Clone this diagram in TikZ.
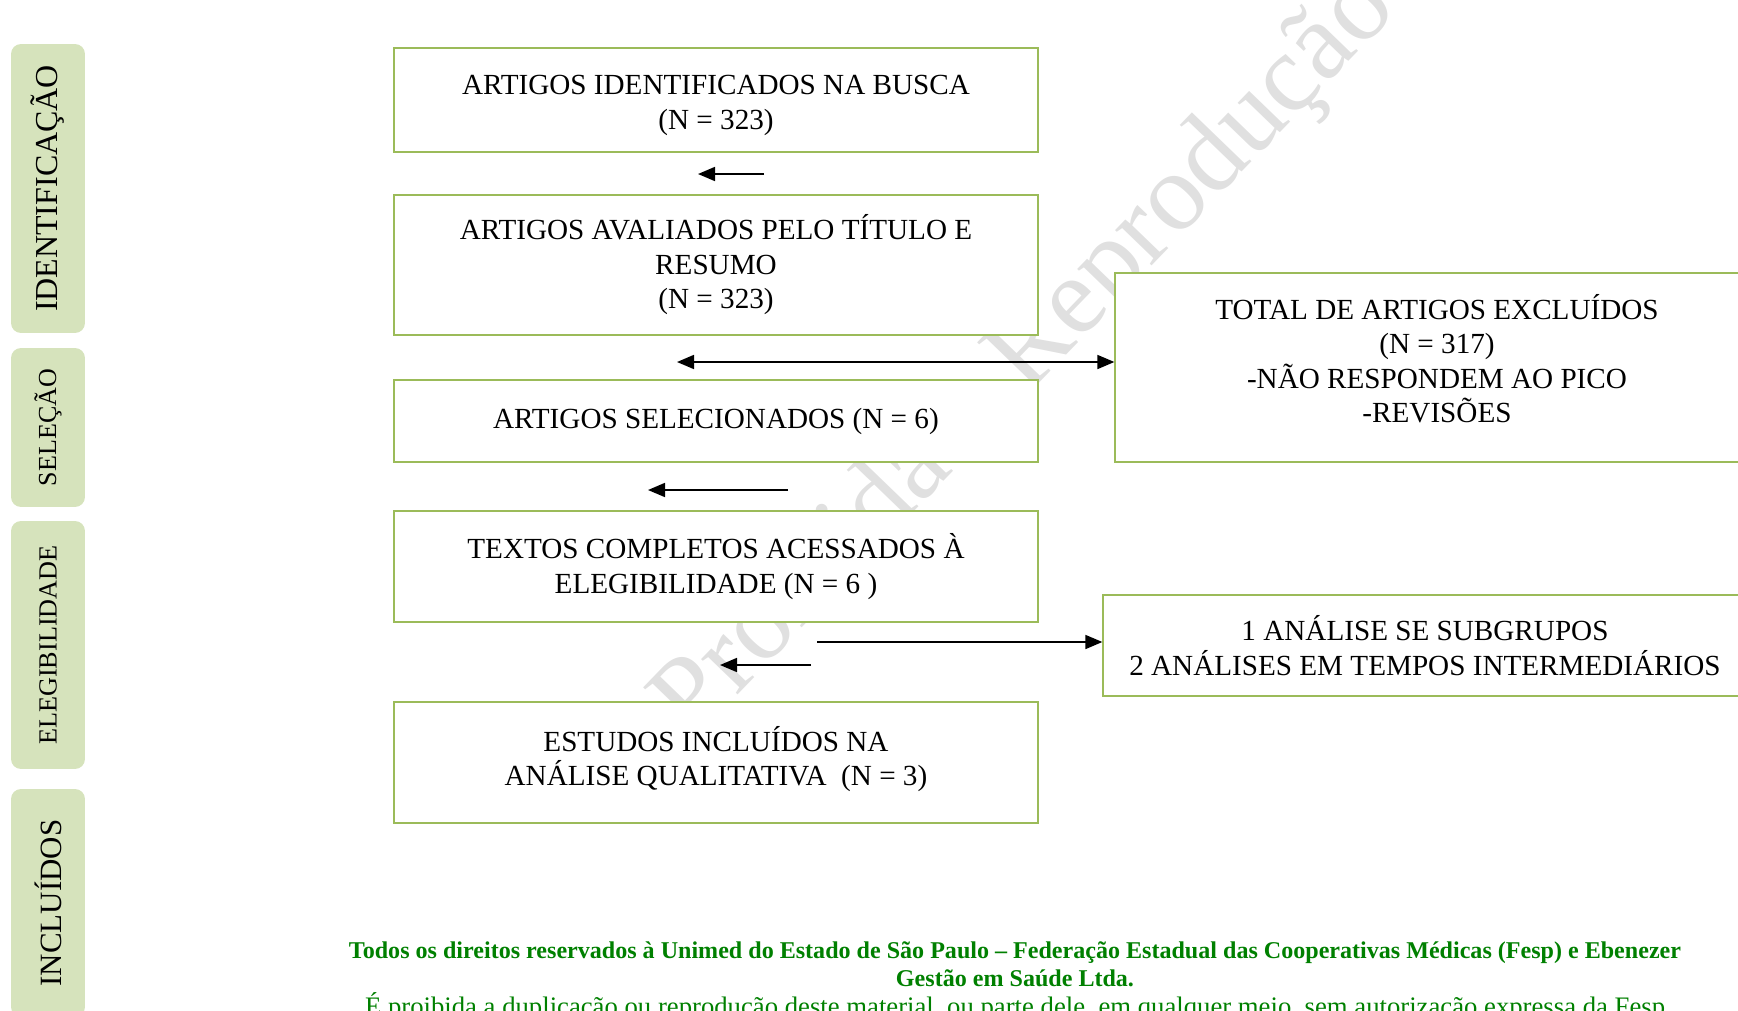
\documentclass[tikz,border=0pt]{standalone}
\usepackage{fontspec}
\setmainfont{Liberation Serif}
\usetikzlibrary{arrows.meta}
\definecolor{boxline}{RGB}{155,187,89}
\definecolor{tabfill}{RGB}{214,227,188}
\definecolor{footgreen}{RGB}{0,128,0}
\begin{document}
\begin{tikzpicture}[x=0.02cm,y=-0.02cm,
    caixa/.style={draw=boxline,line width=0.8pt,fill=white,align=center,inner sep=0pt,
      minimum width=12.88cm,font=\fontsize{16.6}{19.6}\selectfont},
    aba/.style={fill=tabfill,rounded corners=0.2cm,inner sep=0pt,rotate=90,minimum height=1.48cm},
    seta/.style={line width=0.95pt,>={Triangle[length=0.34cm,width=0.28cm]}}]
    \useasboundingbox (0,0) rectangle (1738,1011);
    % marca d'agua
    \node[rotate=46,text=black!12,font=\fontsize{63}{63}\selectfont] (marca) at (1027,357) {Proibida a Reprodução};
    % abas
    \node[aba,minimum width=5.78cm,font=\fontsize{18.2}{18.2}\selectfont] (ident) at (48,188.5) {IDENTIFICAÇÃO};
    \node[aba,minimum width=3.18cm,font=\fontsize{14.8}{14.8}\selectfont] (selec) at (48,427.5) {SELEÇÃO};
    \node[aba,minimum width=4.96cm,font=\fontsize{14.9}{14.9}\selectfont] (eleg) at (48,645) {ELEGIBILIDADE};
    \node[aba,minimum width=4.56cm,font=\fontsize{17.6}{17.6}\selectfont] (inclu) at (48,903) {INCLUÍDOS};
    % caixas
    \node[caixa,minimum height=2.08cm] (busca) at (716,100) {\rule{0pt}{0.61cm}ARTIGOS IDENTIFICADOS NA BUSCA\\(N = 323)};
    \node[caixa,minimum height=2.80cm] (avaliados) at (716,265) {ARTIGOS AVALIADOS PELO TÍTULO E\\RESUMO\\(N = 323)};
    \node[caixa,minimum height=1.64cm] (selecionados) at (716,421) {ARTIGOS SELECIONADOS (N = 6)};
    \node[caixa,minimum height=2.22cm] (textos) at (716,566.5) {TEXTOS COMPLETOS ACESSADOS À\\ELEGIBILIDADE (N = 6 )};
    \node[caixa,minimum height=2.42cm] (estudos) at (716,762.5) {ESTUDOS INCLUÍDOS NA\\ANÁLISE QUALITATIVA~ (N = 3)\rule[-0.26cm]{0pt}{0.26cm}};
    \node[caixa,minimum height=3.78cm] (excluidos) at (1437,367.5) {TOTAL DE ARTIGOS EXCLUÍDOS\\(N = 317)\\-NÃO RESPONDEM AO PICO\\-REVISÕES\rule[-0.36cm]{0pt}{0.36cm}};
    \node[caixa,minimum height=2.02cm] (analises) at (1425,645.5) {1 ANÁLISE SE SUBGRUPOS\\2 ANÁLISES EM TEMPOS INTERMEDIÁRIOS};
    % setas
    \coordinate (s1) at (764,174);
    \coordinate (s1f) at (698,174);
    \coordinate (s2) at (677,362);
    \coordinate (s3) at (788,490);
    \coordinate (s3f) at (648,490);
    \coordinate (s4) at (817,642);
    \coordinate (s5) at (811,665);
    \coordinate (s5f) at (720,665);
    \draw[seta,->] (s1) -- (s1f);
    \draw[seta,<->] (s2) -- (s2 -| excluidos.west);
    \draw[seta,->] (s3) -- (s3f);
    \draw[seta,->] (s4) -- (s4 -| analises.west);
    \draw[seta,->] (s5) -- (s5f);
    % rodape
    \node[anchor=north,align=center,text=footgreen,inner sep=0pt,
      font=\bfseries\fontsize{13.7}{16.4}\selectfont] (rodape) at (1015,941)
      {Todos os direitos reservados à Unimed do Estado de São Paulo – Federação Estadual das Cooperativas Médicas (Fesp) e Ebenezer\\
       Gestão em Saúde Ltda.\\
       \mdseries\fontsize{15.2}{16.4}\selectfont É proibida a duplicação ou reprodução deste material, ou parte dele, em qualquer meio, sem autorização expressa da Fesp};
\end{tikzpicture}
\end{document}
